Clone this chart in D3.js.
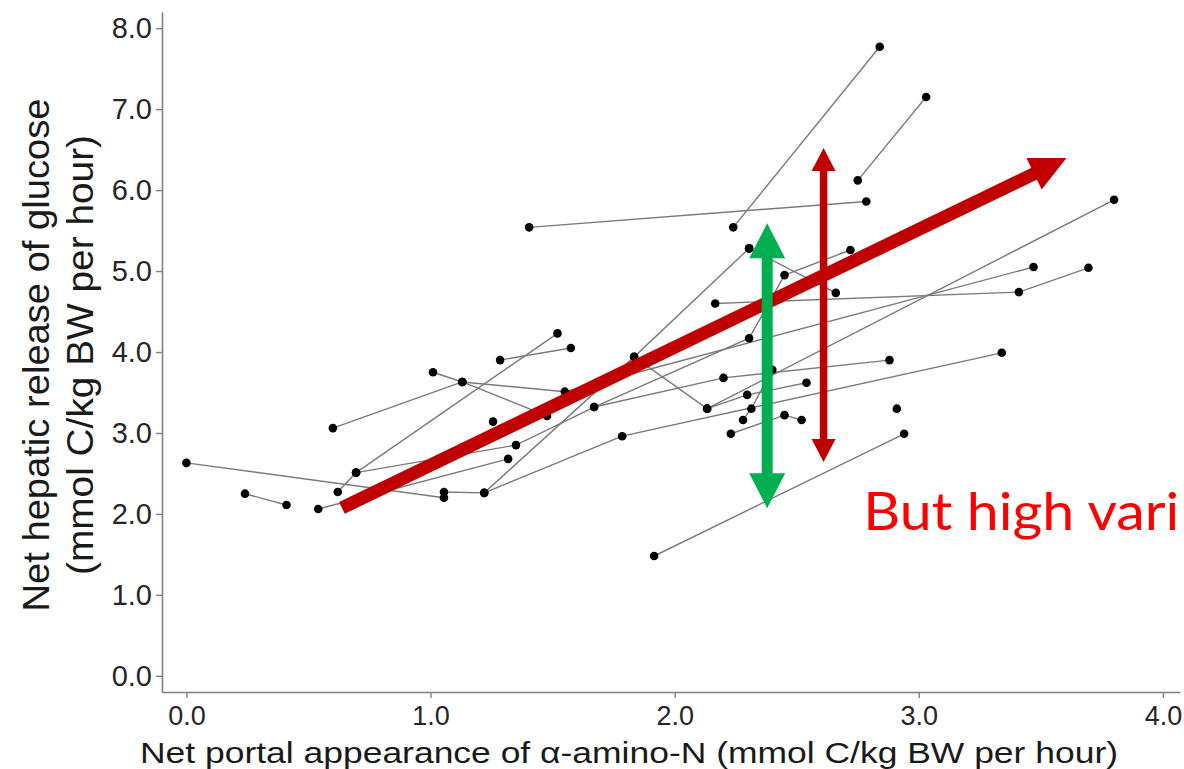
<!DOCTYPE html>
<html><head><meta charset="utf-8">
<script src="https://cdn.jsdelivr.net/npm/d3@7"></script>
<style>html,body{margin:0;padding:0;background:#fff;overflow:hidden}</style>
</head><body>
<svg id="chart" width="1184" height="769"></svg>
<script>
// ---- data ----
const xTicks = [0, 1, 2, 3, 4];
const yTicks = [0, 1, 2, 3, 4, 5, 6, 7, 8];
const xTitle = "Net portal appearance of α-amino-N (mmol C/kg BW per hour)";
const yTitle1 = "Net hepatic release of glucose";
const yTitle2 = "(mmol C/kg BW per hour)";
const noteText = "But high vari";

// each study: x values (amino-N) and y values (glucose), connected in order
const studyX = [
  [0.00, 1.055],
  [0.24, 0.41],
  [0.54, 1.318],
  [0.62, 0.695, 1.52],
  [0.695, 1.35, 1.67, 2.305, 2.45, 2.72],
  [1.67, 2.20, 2.88],
  [0.60, 1.13],
  [1.01, 1.13, 1.55, 3.47],
  [1.13, 1.477],
  [1.285, 1.575],
  [1.055, 1.22, 1.834, 2.305],
  [1.22, 1.785, 3.34],
  [1.404, 2.785],
  [1.834, 2.133, 3.80],
  [2.166, 3.41, 3.695],
  [2.24, 2.84],
  [2.75, 3.03],
  [2.305, 2.66],
  [1.916, 2.94],
  [2.23, 2.45, 2.52],
  [2.28, 2.314, 2.40],
  [2.133, 2.297, 2.54]
];
const studyY = [
  [2.63, 2.20],
  [2.25, 2.11],
  [2.06, 2.68],
  [2.27, 2.51, 4.23],
  [2.51, 2.85, 3.32, 4.17, 4.95, 5.26],
  [3.32, 3.68, 3.90],
  [3.06, 3.63],
  [3.75, 3.63, 3.51, 5.05],
  [3.63, 3.21],
  [3.90, 4.05],
  [2.27, 2.26, 3.94, 5.28],
  [2.26, 2.96, 3.99],
  [5.54, 5.86],
  [3.94, 3.30, 5.88],
  [4.60, 4.74, 5.04],
  [5.54, 7.77],
  [6.12, 7.15],
  [5.28, 4.73],
  [1.48, 2.99],
  [2.99, 3.22, 3.16],
  [3.16, 3.30, 3.78],
  [3.30, 3.47, 3.62]
];
const singleX = [1.256, 2.91];
const singleY = [3.14, 3.30];

// annotation anchors (data units)
const trendFrom = [0.637, 2.074];
const trendTo = [3.605, 6.395];
const greenX = 2.379, greenY = [2.07, 5.59];
const redX = 2.61, redY = [2.64, 6.52];
const noteAt = [2.773, 1.80];

// ---- drawing ----
const svg = d3.select("#chart");
const x = d3.scaleLinear().domain([-0.1, 4.07]).range([162, 1180]);
const y = d3.scaleLinear().domain([-0.2, 8.2]).range([692, 12]);
const fmt = d3.format(".1f");
const AX = "#808080";
const FONT = "'Liberation Sans', Arial, sans-serif";

const gy = svg.append("g").attr("transform", `translate(${x.range()[0]},0)`)
  .call(d3.axisLeft(y).tickValues(yTicks).tickFormat(fmt).tickSize(6).tickSizeOuter(0).tickPadding(4));
const gx = svg.append("g").attr("transform", `translate(0,${y.range()[0]})`)
  .call(d3.axisBottom(x).tickValues(xTicks).tickFormat(fmt).tickSize(6).tickSizeOuter(0).tickPadding(8));
[gx, gy].forEach(g => {
  g.select(".domain").attr("stroke", AX).attr("stroke-width", 1.6);
  g.selectAll(".tick line").attr("stroke", AX).attr("stroke-width", 1.4);
  g.selectAll(".tick text").attr("fill", "#262626").style("font-family", FONT);
});
gy.selectAll(".tick text").style("font-size", "29px");
gx.selectAll(".tick text").style("font-size", "27px");

// axis titles
svg.append("text").attr("x", 629).attr("y", 763).attr("text-anchor", "middle")
  .style("font-family", FONT).style("font-size", "30px").attr("fill", "#1a1a1a")
  .attr("textLength", 978).attr("lengthAdjust", "spacingAndGlyphs")
  .text(xTitle);

const ty = svg.append("g").attr("transform", "translate(0,355) rotate(-90)");
ty.append("text").attr("x", 0).attr("y", 49).attr("text-anchor", "middle")
  .style("font-family", FONT).style("font-size", "37px").attr("fill", "#1a1a1a")
  .attr("textLength", 513).attr("lengthAdjust", "spacingAndGlyphs").text(yTitle1);
ty.append("text").attr("x", 0).attr("y", 93).attr("text-anchor", "middle")
  .style("font-family", FONT).style("font-size", "37px").attr("fill", "#1a1a1a")
  .attr("textLength", 440).attr("lengthAdjust", "spacingAndGlyphs").text(yTitle2);

// study lines
const studies = studyX.map((xs, i) => xs.map((v, j) => [v, studyY[i][j]]));
const line = d3.line().x(d => x(d[0])).y(d => y(d[1]));
svg.append("g").selectAll("path").data(studies).join("path")
  .attr("d", line).attr("fill", "none").attr("stroke", "#7a7a7a").attr("stroke-width", 1.4);

// points
const pts = studies.flat().concat(singleX.map((v, i) => [v, singleY[i]]));
svg.append("g").selectAll("circle").data(pts).join("circle")
  .attr("cx", d => x(d[0])).attr("cy", d => y(d[1])).attr("r", 4.3).attr("fill", "#000");

// arrows
function arrow(g, p0, p1, shaft, headLen, headHalf, color, both) {
  const dx = p1[0] - p0[0], dy = p1[1] - p0[1], L = Math.hypot(dx, dy);
  const ux = dx / L, uy = dy / L, nx = -uy, ny = ux;
  const a = both ? [p0[0] + ux * headLen, p0[1] + uy * headLen] : p0;
  const b = [p1[0] - ux * headLen, p1[1] - uy * headLen];
  g.append("line").attr("x1", a[0] - (both ? ux : 0)).attr("y1", a[1] - (both ? uy : 0))
    .attr("x2", b[0] + ux).attr("y2", b[1] + uy)
    .attr("stroke", color).attr("stroke-width", shaft);
  const head = (tip, base) => [tip, [base[0] + nx * headHalf, base[1] + ny * headHalf], [base[0] - nx * headHalf, base[1] - ny * headHalf]];
  g.append("polygon").attr("points", head(p1, b).join(" ")).attr("fill", color);
  if (both) g.append("polygon").attr("points", head(p0, a).join(" ")).attr("fill", color);
}
const ann = svg.append("g");
arrow(ann, [x(trendFrom[0]), y(trendFrom[1])], [x(trendTo[0]), y(trendTo[1])], 13, 36, 17.5, "#c00000", false);
arrow(ann, [x(greenX), y(greenY[0])], [x(greenX), y(greenY[1])], 11, 35, 18, "#00b050", true);
arrow(ann, [x(redX), y(redY[0])], [x(redX), y(redY[1])], 7.5, 23, 12, "#c00000", true);

svg.append("text").attr("x", x(noteAt[0])).attr("y", y(noteAt[1]))
  .style("font-family", "Lato, 'Open Sans', sans-serif").style("font-size", "53px").attr("fill", "#ff0000")
  .attr("textLength", 316).attr("lengthAdjust", "spacingAndGlyphs").text(noteText);
</script>
</body></html>
